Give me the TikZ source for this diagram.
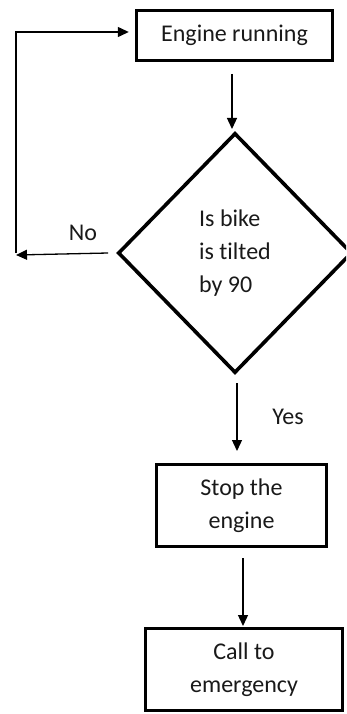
\documentclass[tikz,border=0pt]{standalone}
\usepackage{fontspec}
\setmainfont{Carlito}[Ligatures=NoCommon]
\usetikzlibrary{shapes.geometric,arrows.meta,calc}
\begin{document}
\begin{tikzpicture}[x=1pt,y=-1pt,
  txt/.style={font=\fontsize{24}{33}\selectfont, text=black!90},
  procbox/.style={draw, line width=3.4pt, rectangle, inner sep=0pt, align=center, txt},
  decbox/.style={draw, line width=3.6pt, diamond, inner sep=0pt, align=left, txt},
  arr/.style={line width=1.3pt, -{Triangle[length=11pt,width=10pt]}},
  lbl/.style={txt}]
\useasboundingbox (0,0) rectangle (346,714);
\clip (0,0) rectangle (346,714);
\node[procbox, minimum width=196pt, minimum height=50pt] (top) at (234.5,35.5) {Engine running};
\node[decbox, minimum width=234pt, minimum height=240pt] (dec) at (235,253) {Is bike\\is tilted\\by 90};
\node[procbox, minimum width=170pt, minimum height=82pt] (stop) at (241.5,505.5) {Stop the\\engine};
\node[procbox, minimum width=197pt, minimum height=82pt] (call) at (244,669.5) {Call to\\emergency};
\node[lbl] (no) at (83,233) {No};
\node[lbl] (yes) at (288,417) {Yes};
\coordinate (noend) at (16,255);
\coordinate (loopb) at (16,253);
\draw[arr] (232,74) coordinate (a1) -- (232,129) coordinate (a2);
\draw[arr] ([xshift=-8pt]dec.west) -- (noend);
\draw[arr] (loopb) |- ([xshift=-6pt,yshift=3.5pt]top.west);
\draw[arr] (237,383) coordinate (y1) -- (237,451) coordinate (y2);
\draw[arr] (243,558) coordinate (s1) -- (243,626) coordinate (s2);
\end{tikzpicture}
\end{document}
